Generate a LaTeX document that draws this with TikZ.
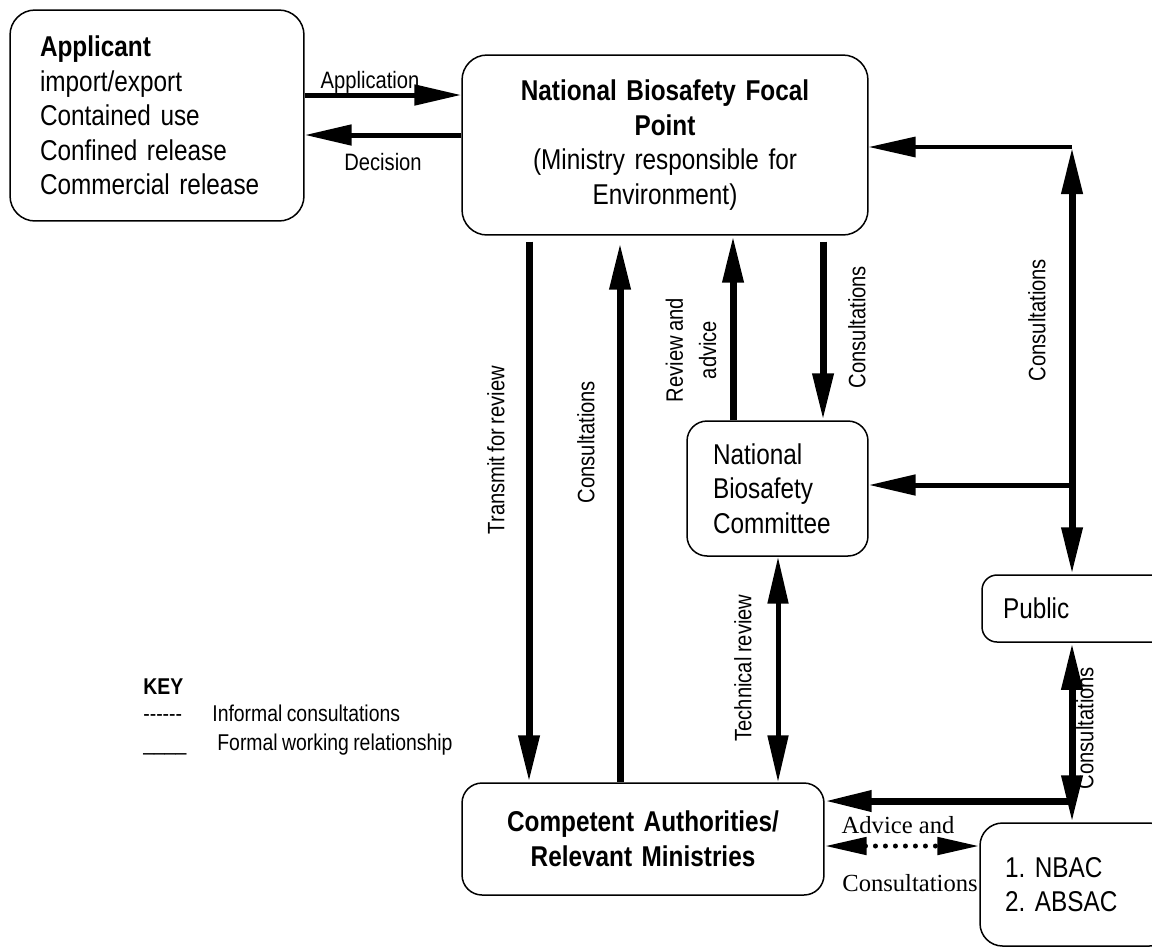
\documentclass[tikz,border=0pt]{standalone}
\usepackage{fontspec}
\setmainfont[FakeStretch=0.85, WordSpace=0.8]{Liberation Sans}
\newfontfamily\romanlbl{Liberation Serif}
\usepackage{tikz}
\usetikzlibrary{arrows.meta}
\usetikzlibrary{calc}
\usetikzlibrary{positioning}
\frenchspacing

\newcommand{\boxtxt}{\fontsize{16.3pt}{19.7pt}\selectfont}
\newcommand{\lbltxt}{\fontsize{13.5pt}{18.8pt}\selectfont}
\newcommand{\keytxt}{\fontsize{13pt}{16pt}\selectfont}

\tikzstyle{stage} = [draw, line width=0.03cm, font=\boxtxt, inner ysep=0pt]
\tikzstyle{note} = [font=\lbltxt, inner sep=0pt]
\tikzstyle{fat} = [line width=0.14cm]
\tikzstyle{mid} = [line width=0.1cm]
\tikzstyle{lean} = [line width=0.07cm]
\tikzstyle{informal} = [line width=0.1cm, line cap=round, dash pattern=on 0pt off 0.2cm,
  {Triangle[length=0.84cm,width=0.34cm]}-{Triangle[length=0.84cm,width=0.34cm]}]

\begin{document}
\begin{tikzpicture}[x=0.02cm, y=-0.02cm, >={Triangle[length=0.94cm,width=0.4cm]}]

    \path[use as bounding box] (0,0) rectangle (1152,948);
    \clip (0,0) rectangle (1152,948); % boxes on the right run off the page

    % lanes
    \coordinate (yApp) at (0,95);
    \coordinate (yDec) at (0,135);
    \coordinate (yTop) at (0,147);
    \coordinate (yNbc) at (0,485);
    \coordinate (yCa)  at (0,801);
    \coordinate (yDot) at (0,846);
    \coordinate (xTr) at (529,0);
    \coordinate (xCo) at (620,0);
    \coordinate (xRv) at (733,0);
    \coordinate (xCd) at (823,0);
    \coordinate (xTe) at (778,0);
    \coordinate (xR)  at (1072,0);
    \coordinate (TopHub) at (1072,147);
    \coordinate (NbcHub) at (1072,485);
    \coordinate (CaHub)  at (1072,801);

    % boxes
    \node[stage, rounded corners=0.5cm, minimum height=4.22cm, text width=4.68cm,
          inner xsep=0.6cm, align=left] (applicant) at (157,115.5)
          {\textbf{Applicant}\\import/export\\Contained use\\Confined release\\Commercial release};
    \node[stage, rounded corners=0.5cm, minimum height=3.6cm, text width=7.5cm,
          inner xsep=0.31cm, align=center] (nbfp) at (665,145)
          {\textbf{National Biosafety Focal}\\\textbf{Point}\\(Ministry responsible for\\Environment)};
    \node[stage, rounded corners=0.4cm, minimum height=2.7cm, text width=2.58cm,
          inner xsep=0.52cm, align=left] (nbc) at (777.5,488.5)
          {National\\Biosafety\\Committee};
    \node[stage, rounded corners=0.4cm, minimum height=2.24cm, text width=6.84cm,
          inner xsep=0.2cm, align=center] (ca) at (643,839)
          {\textbf{Competent Authorities/}\\\textbf{Relevant Ministries}};
    \node[stage, rounded corners=0.3cm, minimum height=1.34cm, text width=2.96cm,
          inner xsep=0.42cm, align=left] (pub) at (1077,608.5) {Public};
    \node[stage, rounded corners=0.45cm, minimum height=2.46cm, text width=2.84cm,
          inner xsep=0.5cm, align=left] (nbac) at (1076,884.5)
          {1. NBAC\\2. ABSAC};

    % applicant <-> focal point
    \draw[mid,->] (applicant.east |- yApp) -- (nbfp.west |- yApp);
    \draw[mid,->] (nbfp.west |- yDec) -- (applicant.east |- yDec);
    \node[note] (lblApp) at (370,82) {Application};
    \node[note] (lblDec) at (383,162) {Decision};

    % focal point <-> authorities and committee
    \draw[fat,->,shorten <=0.12cm] (nbfp.south -| xTr) -- (ca.north -| xTr);
    \draw[fat,->,shorten >=0.14cm] (ca.north -| xCo) -- (nbfp.south -| xCo);
    \draw[fat,->] (nbc.north -| xRv) -- (nbfp.south -| xRv);
    \draw[fat,->,shorten <=0.12cm] (nbfp.south -| xCd) -- (nbc.north -| xCd);
    \draw[mid,<->] (nbc.south -| xTe) -- (ca.north -| xTe);
    \node[note, rotate=90] (lblTr) at (496,450) {Transmit for review};
    \node[note, rotate=90] (lblCo) at (586,442) {Consultations};
    \node[note, rotate=90, align=center] (lblRv) at (691,350) {Review and\\advice};
    \node[note, rotate=90] (lblCd) at (857,327) {Consultations};
    \node[note, rotate=90] (lblTe) at (743,668) {Technical review};

    % public consultations on the right
    \draw[fat,<->] (TopHub) -- (pub.north -| xR);
    \draw[lean,->] (TopHub) -- (nbfp.east |- yTop);
    \draw[mid,->] (NbcHub) -- (nbc.east |- yNbc);
    \node[note, rotate=90] (lblPub) at (1037,320) {Consultations};

    \draw[fat,<->] (pub.south -| xR) -- (nbac.north -| xR);
    \draw[fat,->] (CaHub) -- (ca.east |- yCa);
    \node[note, rotate=90] (lblLow) at (1085,728) {Consultations};

    % informal link
    \draw[informal] (ca.east |- yDot) -- (nbac.west |- yDot);
    \node[font=\romanlbl\fontsize{14pt}{16pt}\selectfont, inner sep=0pt] (lblAdv) at (898,825) {Advice and};
    \node[font=\romanlbl\fontsize{14pt}{16pt}\selectfont, inner sep=0pt] (lblCon) at (910,883) {Consultations};

    % key
    \node[anchor=base west, inner sep=0pt, font=\keytxt\bfseries] (keyhead) at (143,694) {KEY};
    \node[anchor=base west, inner sep=0pt, font=\keytxt] (keydash) at (143,721) {-{}-{}-{}-{}-{}-};
    \node[anchor=base west, inner sep=0pt, font=\keytxt] (keyinf) at (212,721) {Informal consultations};
    \node[anchor=base west, inner sep=0pt, font=\keytxt] (keyline) at (143,750) {\_\_\_\_};
    \node[anchor=base west, inner sep=0pt, font=\keytxt] (keyform) at (217,750) {Formal working relationship};

\end{tikzpicture}
\end{document}
